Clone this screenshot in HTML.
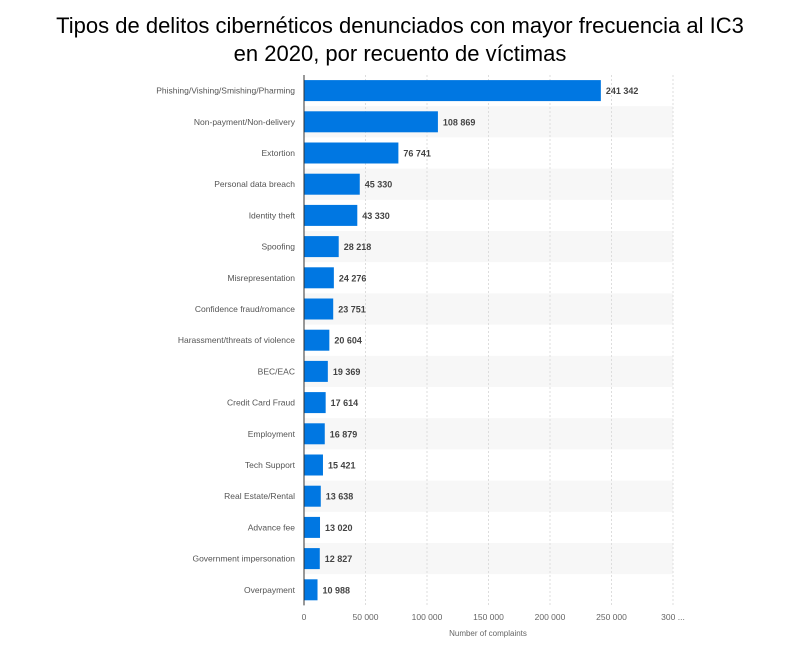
<!DOCTYPE html>
<html><head><meta charset="utf-8"><style>
body{margin:0;background:#fff;width:800px;height:654px;overflow:hidden;font-family:"Liberation Sans",sans-serif}
h1{position:absolute;top:12px;left:0;width:800px;margin:0;text-align:center;font-weight:normal;font-size:22px;line-height:28px;color:#000}
</style></head><body>
<h1>Tipos de delitos cibernéticos denunciados con mayor frecuencia al IC3<br>en 2020, por recuento de víctimas</h1>
<svg id="c" width="800" height="654" style="position:absolute;left:0;top:0"></svg>
<script>
const categories=["Phishing/Vishing/Smishing/Pharming","Non-payment/Non-delivery","Extortion","Personal data breach","Identity theft","Spoofing","Misrepresentation","Confidence fraud/romance","Harassment/threats of violence","BEC/EAC","Credit Card Fraud","Employment","Tech Support","Real Estate/Rental","Advance fee","Government impersonation","Overpayment"];
const values=[241342,108869,76741,45330,43330,28218,24276,23751,20604,19369,17614,16879,15421,13638,13020,12827,10988];
const tickValues=[0,50000,100000,150000,200000,250000,300000];
const tickLabels=["0","50 000","100 000","150 000","200 000","250 000","300 ..."];
const svg=document.getElementById('c');const NS='http://www.w3.org/2000/svg';
const x0=304,x1=673,xmax=300000,top0=75,rowH=31.2;
const xs=v=>x0+v/xmax*(x1-x0);
const yc=i=>top0+rowH*i+rowH/2;
function el(t,a,txt){const e=document.createElementNS(NS,t);for(const k in a)e.setAttribute(k,a[k]);if(txt!=null)e.textContent=txt;svg.appendChild(e);return e;}
const fmt=v=>String(v).replace(/\B(?=(\d{3})+(?!\d))/g,' ');
categories.forEach((c,i)=>{if(i%2==1){const b=el('rect',{x:x0,y:top0+rowH*i,width:x1-x0,height:rowH,fill:'#f7f7f7'});

}});
tickValues.forEach((t,i)=>{if(i>0){const g=el('line',{x1:xs(t),x2:xs(t),y1:top0,y2:top0+rowH*categories.length,stroke:'#ddd','stroke-dasharray':'2,2'});

}
const l=el('text',{x:xs(t),y:620,'font-size':'8.5','fill':'#666','text-anchor':'middle'},tickLabels[i]);

});
categories.forEach((c,i)=>{
const b=el('rect',{x:x0,y:yc(i)-10.5,width:xs(values[i])-x0,height:21,fill:'#0077e2'});


const l=el('text',{x:295,y:yc(i)+3,'font-size':'8.5','fill':'#555','text-anchor':'end'},c);


const v=el('text',{x:xs(values[i])+5,y:yc(i)+3.5,'font-size':'9','font-weight':'bold','fill':'#444'},fmt(values[i]));

});
const ax=el('line',{x1:x0,x2:x0,y1:top0,y2:top0+rowH*categories.length,stroke:'#333','stroke-width':1});


const at=el('text',{x:488,y:636,'font-size':'8','fill':'#666','text-anchor':'middle'},'Number of complaints');


</script>
</body></html>
